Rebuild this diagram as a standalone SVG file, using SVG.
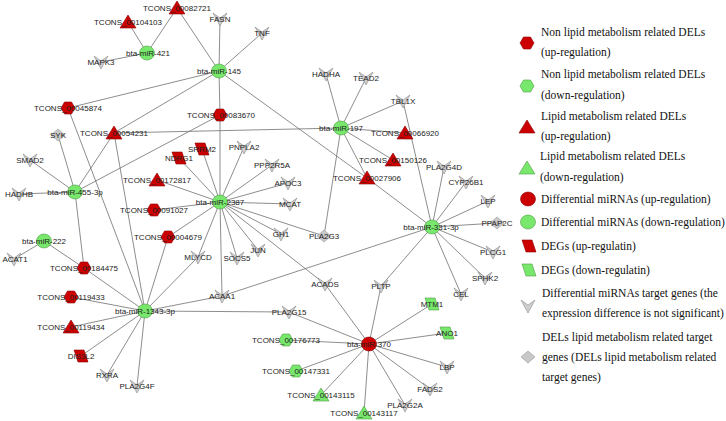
<svg xmlns="http://www.w3.org/2000/svg" width="726" height="421" viewBox="0 0 726 421">
<style>
.e{stroke:#707070;stroke-width:0.8;fill:none}
.lb{font-family:"Liberation Sans",Arial,sans-serif;font-size:8px;fill:#222;text-anchor:middle}
.lg{font-family:"Liberation Serif","Times New Roman",serif;font-size:11.5px;fill:#111}
.r{fill:#cc0000;stroke:#8a0000;stroke-width:0.6}
.g{fill:#78e86c;stroke:#4f9a45;stroke-width:0.6}
.v{fill:#cfcfcf;stroke:#8a8a8a;stroke-width:0.6}
.d{fill:#c8c8c8;stroke:#9a9a9a;stroke-width:0.6}
</style>
<defs>
<ellipse id="cir" rx="7.5" ry="7"/>
<polygon id="hex" points="-7,0 -3.5,-6 3.5,-6 7,0 3.5,6 -3.5,6"/>
<polygon id="tri" points="0,-7 8,6 -8,6"/>
<polygon id="par" points="-7,-6 3,-6 7,6 -3,6"/>
<polygon id="vee" points="-7,-6 0,-1 7,-6 0,7"/>
<polygon id="dia" points="0,-6 7,0 0,6 -7,0"/>
</defs>
<rect width="726" height="421" fill="#fff"/>
<g id="connectors">
<line class="e" x1="147" y1="53" x2="128" y2="22"/>
<line class="e" x1="147" y1="53" x2="177" y2="8"/>
<line class="e" x1="147" y1="53" x2="101" y2="62"/>
<line class="e" x1="219" y1="71" x2="177" y2="8"/>
<line class="e" x1="219" y1="71" x2="220" y2="19"/>
<line class="e" x1="219" y1="71" x2="262" y2="33"/>
<line class="e" x1="219" y1="71" x2="220" y2="115"/>
<line class="e" x1="219" y1="71" x2="68" y2="108"/>
<line class="e" x1="219" y1="71" x2="114" y2="133"/>
<line class="e" x1="219" y1="71" x2="367" y2="178"/>
<line class="e" x1="341" y1="128" x2="326" y2="74"/>
<line class="e" x1="341" y1="128" x2="366" y2="78"/>
<line class="e" x1="341" y1="128" x2="403" y2="101"/>
<line class="e" x1="341" y1="128" x2="405" y2="133"/>
<line class="e" x1="341" y1="128" x2="114" y2="133"/>
<line class="e" x1="341" y1="128" x2="393" y2="160"/>
<line class="e" x1="341" y1="128" x2="367" y2="178"/>
<line class="e" x1="341" y1="128" x2="324" y2="236"/>
<line class="e" x1="75" y1="192" x2="30" y2="160"/>
<line class="e" x1="75" y1="192" x2="19" y2="194"/>
<line class="e" x1="75" y1="192" x2="58" y2="135"/>
<line class="e" x1="75" y1="192" x2="114" y2="133"/>
<line class="e" x1="75" y1="192" x2="220" y2="115"/>
<line class="e" x1="75" y1="192" x2="84" y2="268"/>
<line class="e" x1="44" y1="241" x2="14" y2="259"/>
<line class="e" x1="44" y1="241" x2="84" y2="268"/>
<line class="e" x1="220" y1="202" x2="179" y2="158"/>
<line class="e" x1="220" y1="202" x2="202" y2="149"/>
<line class="e" x1="220" y1="202" x2="244" y2="147"/>
<line class="e" x1="220" y1="202" x2="272" y2="165"/>
<line class="e" x1="220" y1="202" x2="288" y2="183"/>
<line class="e" x1="220" y1="202" x2="290" y2="204"/>
<line class="e" x1="220" y1="202" x2="281" y2="234"/>
<line class="e" x1="220" y1="202" x2="324" y2="236"/>
<line class="e" x1="220" y1="202" x2="258" y2="250"/>
<line class="e" x1="220" y1="202" x2="237" y2="258"/>
<line class="e" x1="220" y1="202" x2="198" y2="257"/>
<line class="e" x1="220" y1="202" x2="157" y2="180"/>
<line class="e" x1="220" y1="202" x2="154" y2="210"/>
<line class="e" x1="220" y1="202" x2="168" y2="237"/>
<line class="e" x1="220" y1="202" x2="220" y2="115"/>
<line class="e" x1="220" y1="202" x2="222" y2="296"/>
<line class="e" x1="220" y1="202" x2="325" y2="284"/>
<line class="e" x1="145" y1="311" x2="71" y2="297"/>
<line class="e" x1="145" y1="311" x2="71" y2="327"/>
<line class="e" x1="145" y1="311" x2="81" y2="356"/>
<line class="e" x1="145" y1="311" x2="107" y2="375"/>
<line class="e" x1="145" y1="311" x2="137" y2="386"/>
<line class="e" x1="145" y1="311" x2="222" y2="296"/>
<line class="e" x1="145" y1="311" x2="289" y2="312"/>
<line class="e" x1="145" y1="311" x2="84" y2="268"/>
<line class="e" x1="145" y1="311" x2="68" y2="108"/>
<line class="e" x1="145" y1="311" x2="114" y2="133"/>
<line class="e" x1="145" y1="311" x2="168" y2="237"/>
<line class="e" x1="145" y1="311" x2="198" y2="257"/>
<line class="e" x1="432" y1="227" x2="367" y2="178"/>
<line class="e" x1="432" y1="227" x2="444" y2="167"/>
<line class="e" x1="432" y1="227" x2="466" y2="182"/>
<line class="e" x1="432" y1="227" x2="488" y2="201"/>
<line class="e" x1="432" y1="227" x2="497" y2="223"/>
<line class="e" x1="432" y1="227" x2="493" y2="252"/>
<line class="e" x1="432" y1="227" x2="485" y2="278"/>
<line class="e" x1="432" y1="227" x2="461" y2="294"/>
<line class="e" x1="432" y1="227" x2="381" y2="286"/>
<line class="e" x1="432" y1="227" x2="222" y2="296"/>
<line class="e" x1="432" y1="227" x2="403" y2="101"/>
<line class="e" x1="369" y1="344" x2="325" y2="284"/>
<line class="e" x1="369" y1="344" x2="381" y2="286"/>
<line class="e" x1="369" y1="344" x2="432" y2="304"/>
<line class="e" x1="369" y1="344" x2="447" y2="333"/>
<line class="e" x1="369" y1="344" x2="447" y2="367"/>
<line class="e" x1="369" y1="344" x2="430" y2="389"/>
<line class="e" x1="369" y1="344" x2="405" y2="405"/>
<line class="e" x1="369" y1="344" x2="364" y2="413"/>
<line class="e" x1="369" y1="344" x2="321" y2="395"/>
<line class="e" x1="369" y1="344" x2="296" y2="371"/>
<line class="e" x1="369" y1="344" x2="286" y2="340"/>
<line class="e" x1="369" y1="344" x2="289" y2="312"/>
</g>
<g id="targets">
<g id="n-MAPK3"><use href="#vee" class="v" x="101" y="62"/><text class="lb" x="101" y="65">MAPK3</text></g>
<g id="n-FASN"><use href="#vee" class="v" x="220" y="19"/><text class="lb" x="220" y="22">FASN</text></g>
<g id="n-TNF"><use href="#vee" class="v" x="262" y="33"/><text class="lb" x="262" y="36">TNF</text></g>
<g id="n-HADHA"><use href="#vee" class="v" x="326" y="74"/><text class="lb" x="326" y="77">HADHA</text></g>
<g id="n-TEAD2"><use href="#vee" class="v" x="366" y="78"/><text class="lb" x="366" y="81">TEAD2</text></g>
<g id="n-TBL1X"><use href="#vee" class="v" x="403" y="101"/><text class="lb" x="403" y="104">TBL1X</text></g>
<g id="n-SMAD2"><use href="#vee" class="v" x="30" y="160"/><text class="lb" x="30" y="163">SMAD2</text></g>
<g id="n-HADHB"><use href="#vee" class="v" x="19" y="194"/><text class="lb" x="19" y="197">HADHB</text></g>
<g id="n-ACAT1"><use href="#vee" class="v" x="14" y="259"/><text class="lb" x="15" y="262">ACAT1</text></g>
<g id="n-PNPLA2"><use href="#vee" class="v" x="244" y="147"/><text class="lb" x="244" y="150">PNPLA2</text></g>
<g id="n-PPP2R5A"><use href="#vee" class="v" x="272" y="165"/><text class="lb" x="272" y="168">PPP2R5A</text></g>
<g id="n-APOC3"><use href="#vee" class="v" x="288" y="183"/><text class="lb" x="288" y="186">APOC3</text></g>
<g id="n-MCAT"><use href="#vee" class="v" x="290" y="204"/><text class="lb" x="290" y="207">MCAT</text></g>
<g id="n-GH1"><use href="#vee" class="v" x="281" y="234"/><text class="lb" x="281" y="237">GH1</text></g>
<g id="n-JUN"><use href="#vee" class="v" x="258" y="250"/><text class="lb" x="258" y="253">JUN</text></g>
<g id="n-SOCS5"><use href="#vee" class="v" x="237" y="258"/><text class="lb" x="237" y="261">SOCS5</text></g>
<g id="n-MLYCD"><use href="#vee" class="v" x="198" y="257"/><text class="lb" x="198" y="260">MLYCD</text></g>
<g id="n-ACAA1"><use href="#vee" class="v" x="222" y="296"/><text class="lb" x="222" y="299">ACAA1</text></g>
<g id="n-ACADS"><use href="#vee" class="v" x="325" y="284"/><text class="lb" x="325" y="287">ACADS</text></g>
<g id="n-PLTP"><use href="#vee" class="v" x="381" y="286"/><text class="lb" x="381" y="289">PLTP</text></g>
<g id="n-PLA2G15"><use href="#vee" class="v" x="289" y="312"/><text class="lb" x="289" y="315">PLA2G15</text></g>
<g id="n-RXRA"><use href="#vee" class="v" x="107" y="375"/><text class="lb" x="107" y="378">RXRA</text></g>
<g id="n-PLA2G4F"><use href="#vee" class="v" x="137" y="386"/><text class="lb" x="137" y="389">PLA2G4F</text></g>
<g id="n-PLA2G4D"><use href="#vee" class="v" x="444" y="167"/><text class="lb" x="444" y="170">PLA2G4D</text></g>
<g id="n-CYP26B1"><use href="#vee" class="v" x="466" y="182"/><text class="lb" x="466" y="185">CYP26B1</text></g>
<g id="n-LEP"><use href="#vee" class="v" x="488" y="201"/><text class="lb" x="488" y="204">LEP</text></g>
<g id="n-PLCG1"><use href="#vee" class="v" x="493" y="252"/><text class="lb" x="493" y="255">PLCG1</text></g>
<g id="n-SPHK2"><use href="#vee" class="v" x="485" y="278"/><text class="lb" x="485" y="281">SPHK2</text></g>
<g id="n-CEL"><use href="#vee" class="v" x="461" y="294"/><text class="lb" x="461" y="297">CEL</text></g>
<g id="n-LBP"><use href="#vee" class="v" x="447" y="367"/><text class="lb" x="447" y="370">LBP</text></g>
<g id="n-FADS2"><use href="#vee" class="v" x="430" y="389"/><text class="lb" x="430" y="392">FADS2</text></g>
<g id="n-PLA2G2A"><use href="#vee" class="v" x="405" y="405"/><text class="lb" x="405" y="408">PLA2G2A</text></g>
<g id="n-SYK"><use href="#dia" class="d" x="58" y="135"/><text class="lb" x="58" y="138">SYK</text></g>
<g id="n-PLA2G3"><use href="#dia" class="d" x="324" y="236"/><text class="lb" x="324" y="239">PLA2G3</text></g>
<g id="n-PPAP2C"><use href="#dia" class="d" x="497" y="223"/><text class="lb" x="497" y="226">PPAP2C</text></g>
</g>
<g id="degs">
<g id="n-NDRG1"><use href="#par" class="r" x="179" y="158"/><text class="lb" x="179" y="161">NDRG1</text></g>
<g id="n-SRRM2"><use href="#par" class="r" x="202" y="149"/><text class="lb" x="202" y="152">SRRM2</text></g>
<g id="n-DIS3L2"><use href="#par" class="r" x="81" y="356"/><text class="lb" x="81" y="359">DIS3L2</text></g>
<g id="n-MTM1"><use href="#par" class="g" x="432" y="304"/><text class="lb" x="432" y="307">MTM1</text></g>
<g id="n-ANO1"><use href="#par" class="g" x="447" y="333"/><text class="lb" x="447" y="336">ANO1</text></g>
</g>
<g id="lncrnas">
<g id="n-T104103"><use href="#tri" class="r" x="128" y="22"/><text class="lb" x="128" y="25">TCONS_00104103</text></g>
<g id="n-T082721"><use href="#tri" class="r" x="177" y="8"/><text class="lb" x="177" y="11">TCONS_00082721</text></g>
<g id="n-T045874"><use href="#hex" class="r" x="68" y="108"/><text class="lb" x="68" y="111">TCONS_00045874</text></g>
<g id="n-T054231"><use href="#tri" class="r" x="114" y="133"/><text class="lb" x="114" y="136">TCONS_00054231</text></g>
<g id="n-T083670"><use href="#hex" class="r" x="220" y="115"/><text class="lb" x="221" y="118">TCONS_00083670</text></g>
<g id="n-T066920"><use href="#tri" class="r" x="405" y="133"/><text class="lb" x="405" y="136">TCONS_00066920</text></g>
<g id="n-T150126"><use href="#tri" class="r" x="393" y="160"/><text class="lb" x="393" y="163">TCONS_00150126</text></g>
<g id="n-T027906"><use href="#tri" class="r" x="367" y="178"/><text class="lb" x="367" y="181">TCONS_00027906</text></g>
<g id="n-T172817"><use href="#tri" class="r" x="157" y="180"/><text class="lb" x="157" y="183">TCONS_00172817</text></g>
<g id="n-T091027"><use href="#hex" class="r" x="154" y="210"/><text class="lb" x="154" y="213">TCONS_00091027</text></g>
<g id="n-T004679"><use href="#hex" class="r" x="168" y="237"/><text class="lb" x="168" y="240">TCONS_00004679</text></g>
<g id="n-T184475"><use href="#hex" class="r" x="84" y="268"/><text class="lb" x="84" y="271">TCONS_00184475</text></g>
<g id="n-T119433"><use href="#hex" class="r" x="71" y="297"/><text class="lb" x="71" y="300">TCONS_00119433</text></g>
<g id="n-T119434"><use href="#tri" class="r" x="71" y="327"/><text class="lb" x="71" y="330">TCONS_00119434</text></g>
<g id="n-T176773"><use href="#hex" class="g" x="286" y="340"/><text class="lb" x="286" y="343">TCONS_00176773</text></g>
<g id="n-T147331"><use href="#hex" class="g" x="296" y="371"/><text class="lb" x="296" y="374">TCONS_00147331</text></g>
<g id="n-T143115"><use href="#tri" class="g" x="321" y="395"/><text class="lb" x="321" y="398">TCONS_00143115</text></g>
<g id="n-T143117"><use href="#tri" class="g" x="364" y="413"/><text class="lb" x="364" y="416">TCONS_00143117</text></g>
</g>
<g id="mirnas">
<g id="n-miR421"><use href="#cir" class="g" x="147" y="53"/><text class="lb" x="148" y="56">bta-miR-421</text></g>
<g id="n-miR145"><use href="#cir" class="g" x="219" y="71"/><text class="lb" x="219" y="74">bta-miR-145</text></g>
<g id="n-miR197"><use href="#cir" class="g" x="341" y="128"/><text class="lb" x="341" y="131">bta-miR-197</text></g>
<g id="n-miR455"><use href="#cir" class="g" x="75" y="192"/><text class="lb" x="75" y="195">bta-miR-455-3p</text></g>
<g id="n-miR222"><use href="#cir" class="g" x="44" y="241"/><text class="lb" x="44" y="244">bta-miR-222</text></g>
<g id="n-miR2387"><use href="#cir" class="g" x="220" y="202"/><text class="lb" x="220" y="205">bta-miR-2387</text></g>
<g id="n-miR331"><use href="#cir" class="g" x="432" y="227"/><text class="lb" x="431" y="230">bta-miR-331-3p</text></g>
<g id="n-miR1343"><use href="#cir" class="g" x="145" y="311"/><text class="lb" x="145" y="314">bta-miR-1343-3p</text></g>
<g id="n-miR370"><use href="#cir" class="r" x="369" y="344"/><text class="lb" x="369" y="347">bta-miR-370</text></g>
</g>
<g id="legend">
<use href="#hex" class="r" x="527" y="43"/>
<text class="lg" x="541" y="36">Non lipid metabolism related DELs</text>
<text class="lg" x="541" y="56">(up-regulation)</text>
<use href="#hex" class="g" x="527" y="86"/>
<text class="lg" x="541" y="78">Non lipid metabolism related DELs</text>
<text class="lg" x="541" y="99">(down-regulation)</text>
<use href="#tri" class="r" x="527" y="127"/>
<text class="lg" x="541" y="120">Lipid metabolism related DELs</text>
<text class="lg" x="541" y="140">(up-regulation)</text>
<use href="#tri" class="g" x="527" y="168"/>
<text class="lg" x="540" y="160">Lipid metabolism related DELs</text>
<text class="lg" x="540" y="181">(down-regulation)</text>
<use href="#cir" class="r" x="528" y="199"/>
<text class="lg" x="541" y="203">Differential miRNAs (up-regulation)</text>
<use href="#cir" class="g" x="528" y="222"/>
<text class="lg" x="541" y="226">Differential miRNAs (down-regulation)</text>
<use href="#par" class="r" x="529" y="246"/>
<text class="lg" x="541" y="250">DEGs (up-regulatin)</text>
<use href="#par" class="g" x="529" y="270"/>
<text class="lg" x="541" y="274">DEGs (down-regulatin)</text>
<use href="#vee" class="v" x="528" y="306"/>
<text class="lg" x="542" y="297">Differential miRNAs target genes (the</text>
<text class="lg" x="542" y="317">expression difference is not significant)</text>
<use href="#dia" class="d" x="528" y="357"/>
<text class="lg" x="542" y="341">DELs lipid metabolism related target</text>
<text class="lg" x="542" y="361">genes (DELs lipid metabolism related</text>
<text class="lg" x="542" y="381">target genes)</text>
</g>
</svg>
